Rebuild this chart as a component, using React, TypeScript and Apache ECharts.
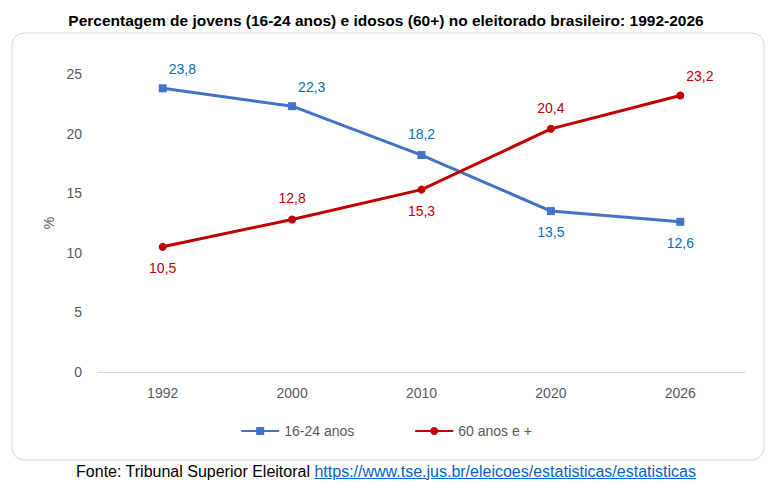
import { useEffect, useRef } from "react";
import * as echarts from "echarts";

const years = ["1992", "2000", "2010", "2020", "2026"];
const jovens = [23.8, 22.3, 18.2, 13.5, 12.6];
const idosos = [10.5, 12.8, 15.3, 20.4, 23.2];
const jovensPos = ["right", "right", "top", "bottom", "bottom"];
const idososPos = ["bottom", "top", "bottom", "top", "right"];

const FONT = "'Liberation Sans', 'Open Sans', sans-serif";
const fmt = (v: number) => v.toFixed(1).replace(".", ",");

export default function App() {
  const ref = useRef<HTMLDivElement>(null);

  useEffect(() => {
    if (!ref.current) return;
    const chart = echarts.init(ref.current, undefined, { renderer: "svg" });
    const labelFor = (pos: string, color: string) => ({
      show: true,
      position: pos === "right" ? [10, -22] : pos,
      distance: 10,
      color,
      fontSize: 14,
      fontFamily: FONT,
      formatter: (p: any) => fmt(p.value),
    });
    chart.setOption({
      animation: false,
      textStyle: { fontFamily: FONT },
      title: {
        text: "Percentagem de jovens (16-24 anos) e idosos (60+) no eleitorado brasileiro: 1992-2026",
        left: "center",
        top: 7,
        textStyle: { fontSize: 15.5, fontWeight: "bold", color: "#000", fontFamily: FONT },
      },
      graphic: [
        {
          type: "rect",
          shape: { x: 12, y: 33, width: 752, height: 427, r: 12 },
          style: { fill: "none", stroke: "#d9d9d9", lineWidth: 1 },
          silent: true,
        },
      ],
      grid: { left: 98, right: 27, top: 74, bottom: 123 },
      legend: {
        bottom: 52,
        left: "center",
        itemGap: 60,
        itemWidth: 38,
        itemHeight: 10,
        textStyle: { fontSize: 14, color: "#595959", fontFamily: FONT },
        data: ["16-24 anos", "60 anos e +"],
      },
      xAxis: {
        type: "category",
        data: years,
        axisLine: { lineStyle: { color: "#d9d9d9" } },
        axisTick: { show: false },
        axisLabel: { color: "#595959", fontSize: 14, margin: 14 },
      },
      yAxis: {
        type: "value",
        min: 0,
        max: 25,
        interval: 5,
        name: "%",
        nameLocation: "middle",
        nameGap: 42,
        nameTextStyle: { color: "#595959", fontSize: 14 },
        splitLine: { show: false },
        axisLabel: { color: "#595959", fontSize: 14, margin: 16 },
      },
      series: [
        {
          name: "16-24 anos",
          type: "line",
          data: jovens.map((v, i) => ({ value: v, label: labelFor(jovensPos[i], "#0070C0") })),
          symbol: "rect",
          symbolSize: 8,
          lineStyle: { color: "#4472C4", width: 3 },
          itemStyle: { color: "#4472C4" },
        },
        {
          name: "60 anos e +",
          type: "line",
          data: idosos.map((v, i) => ({ value: v, label: labelFor(idososPos[i], "#C00000") })),
          symbol: "circle",
          symbolSize: 8,
          lineStyle: { color: "#C00000", width: 3 },
          itemStyle: { color: "#C00000" },
        },
      ],
    });
    return () => chart.dispose();
  }, []);

  return (
    <div style={{ position: "absolute", left: 0, top: 0, width: 772, height: 495 }}>
      <div ref={ref} style={{ width: 772, height: 495 }} />
      <div
        style={{
          position: "absolute",
          left: 0,
          width: 772,
          top: 463,
          textAlign: "center",
          fontFamily: FONT,
          fontSize: 16,
          color: "#000",
        }}
      >
        Fonte: Tribunal Superior Eleitoral{" "}
        <a href="https://www.tse.jus.br/eleicoes/estatisticas/estatisticas" style={{ color: "#0563C1" }}>
          https://www.tse.jus.br/eleicoes/estatisticas/estatisticas
        </a>
      </div>
    </div>
  );
}
